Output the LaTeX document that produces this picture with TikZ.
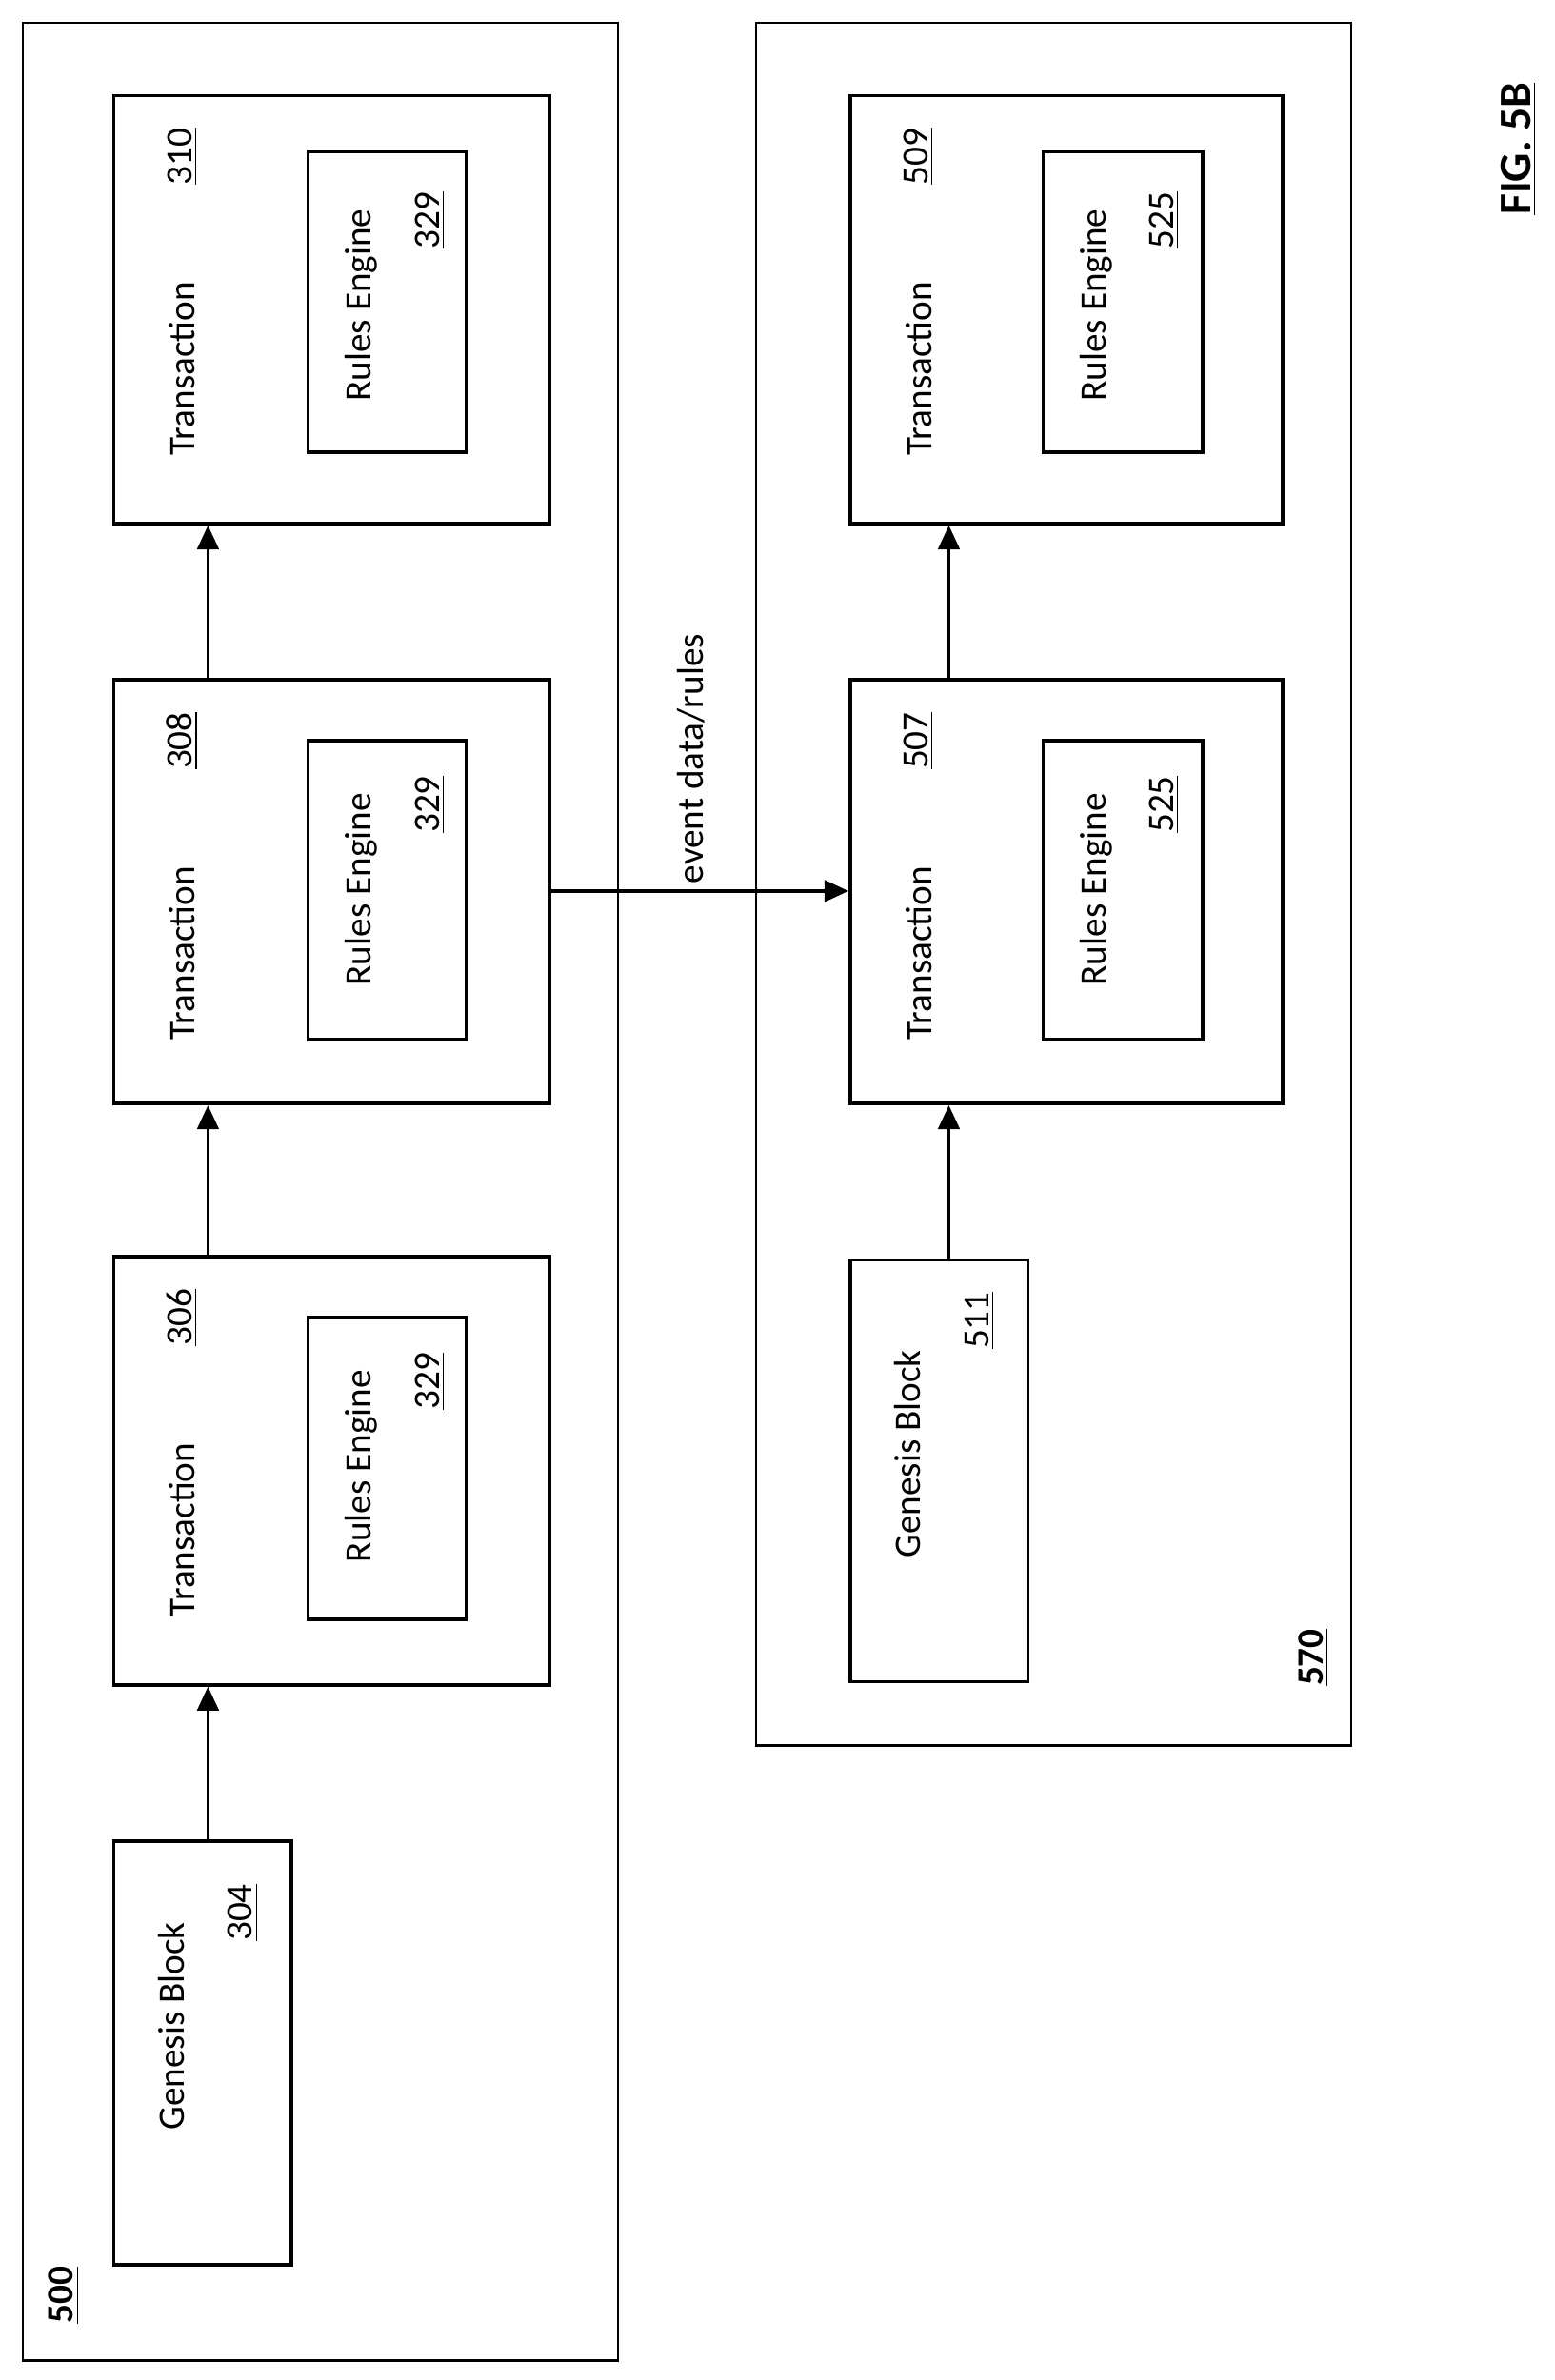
\documentclass[tikz,border=0pt]{standalone}
\usepackage{fontspec}
\setmainfont{Carlito}
\usetikzlibrary{arrows.meta}
\begin{document}
\begin{tikzpicture}[x=0.02cm,y=-0.02cm,
 box/.style={draw,line width=1.3pt,inner sep=0pt},
 obox/.style={draw,line width=1pt,inner sep=0pt},
 t/.style={rotate=90,font=\fontsize{14}{16}\selectfont,inner sep=0pt},
 num/.style={t,font=\fontsize{14}{16}\selectfont},
 arr/.style={-{Triangle[length=9pt,width=8pt]},line width=1.3pt}]
\useasboundingbox (0,0) rectangle (1024,1568);
\newcommand{\bx}[6]{\node[#1,minimum width={(#4-#2)*0.02cm},minimum height={(#5-#3)*0.02cm}] (#6) at ({(#2+#4)/2},{(#3+#5)/2}) {};}
\bx{obox}{15}{15}{407}{1555}{o500}
\bx{obox}{498}{15}{890}{1150}{o570}
\bx{box}{75}{1213}{192}{1492}{g304}
\bx{box}{75}{828}{362}{1110}{t306}
\bx{box}{203}{868}{307}{1067}{r306}
\bx{box}{75}{448}{362}{727}{t308}
\bx{box}{203}{488}{307}{685}{r308}
\bx{box}{75}{63}{362}{345}{t310}
\bx{box}{203}{100}{307}{298}{r310}
\bx{box}{560}{830}{677}{1108}{g511}
\bx{box}{560}{448}{845}{727}{t507}
\bx{box}{687}{488}{792}{685}{r507}
\bx{box}{560}{63}{845}{345}{t509}
\bx{box}{687}{100}{792}{298}{r509}
\node[t] (l500) at (42,1512) {\textbf{\underline{500}}};
\node[t] (l570) at (865,1092) {\textbf{\underline{570}}};
\node[t] (fig) at (1000,98) {\fontsize{17}{19}\selectfont\textbf{\underline{FIG. 5B}}};
\node[t] (gt304) at (113,1335) {Genesis Block};
\node[num] (n304) at (160,1260) {\underline{304}};
\node[t] (gt511) at (598,958) {Genesis Block};
\node[num] (n511) at (645,870) {\underline{511}};
\foreach \nm/\ty in {306/828,308/448,310/63}{
 \node[t] (tt\nm) at (120,\ty+180) {Transaction};
 \node[num] (tn\nm) at (120,\ty+40) {\underline{\nm}};
 \node[t] (rt\nm) at (238,\ty+138) {Rules Engine};
 \node[num] (rn\nm) at (283,\ty+82) {\underline{329}};
}
\foreach \nm/\ty in {507/448,509/63}{
 \node[t] (tt\nm) at (605,\ty+180) {Transaction};
 \node[num] (tn\nm) at (605,\ty+40) {\underline{\nm}};
 \node[t] (rt\nm) at (722,\ty+138) {Rules Engine};
 \node[num] (rn\nm) at (767,\ty+82) {\underline{525}};
}
\draw[arr] (g304.north -| 137,0) -- (t306.south -| 137,0);
\draw[arr] (t306.north -| 137,0) -- (t308.south -| 137,0);
\draw[arr] (t308.north -| 137,0) -- (t310.south -| 137,0);
\draw[arr] (g511.north -| 625,0) -- (t507.south -| 625,0);
\draw[arr] (t507.north -| 625,0) -- (t509.south -| 625,0);
\draw[arr] (t308.east |- 0,587) -- (t507.west |- 0,587);
\node[t] (ev) at (455,500) {event data/rules};
\end{tikzpicture}
\end{document}
